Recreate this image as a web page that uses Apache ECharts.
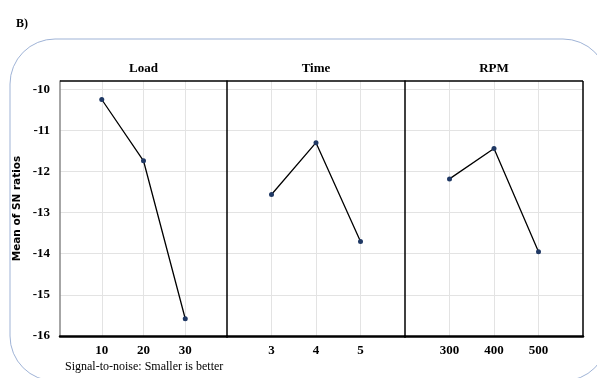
<!DOCTYPE html>
<html><head><meta charset="utf-8">
<script src="https://cdn.jsdelivr.net/npm/echarts@6/dist/echarts.min.js"></script>
<style>html,body{margin:0;padding:0;background:#fff}#c{width:597px;height:378px}</style>
</head><body><div id="c"></div>
<script>
const panelTitles = ['Load', 'Time', 'RPM'];
const loadLevels = [10, 20, 30];
const loadSN = [-10.25, -11.74, -15.58];
const timeLevels = [3, 4, 5];
const timeSN = [-12.56, -11.30, -13.70];
const rpmLevels = [300, 400, 500];
const rpmSN = [-12.18, -11.44, -13.95];
const yTicks = [-16, -15, -14, -13, -12, -11, -10];

const levels = [loadLevels, timeLevels, rpmLevels];
const values = [loadSN, timeSN, rpmSN];
const xRanges = [[0, 40, 10], [2, 6, 1], [200, 600, 100]];
const grids = [{left: 60, width: 167}, {left: 227, width: 178}, {left: 405, width: 178}];
const serif = '"Liberation Serif", "DejaVu Serif", serif';

const chart = echarts.init(document.getElementById('c'), null, {renderer: 'canvas'});
const option = {
  animation: false,
  grid: grids.map(g => ({left: g.left, width: g.width, top: 81, height: 255, show: false})),
  xAxis: grids.map((g, i) => ({
    type: 'value', gridIndex: i, min: xRanges[i][0], max: xRanges[i][1], interval: xRanges[i][2],
    axisLine: {show: true, onZero: false, lineStyle: {color: '#000', width: 2.5}},
    axisTick: {show: false},
    splitLine: {show: true, showMinLine: false, showMaxLine: false, lineStyle: {color: '#e3e3e3', width: 1}},
    axisLabel: {
      fontFamily: serif, fontWeight: 'bold', fontSize: 13, color: '#000', margin: 8,
      showMinLabel: false, showMaxLabel: false,
      formatter: v => levels[i].indexOf(v) >= 0 ? String(v) : ''
    }
  })),
  yAxis: grids.map((g, i) => ({
    type: 'value', gridIndex: i, min: yTicks[0], max: -9.8, interval: 1,
    axisLine: {show: true, lineStyle: {color: i === 0 ? '#888' : '#000', width: 1.5}},
    axisTick: {show: false},
    splitLine: {show: true, showMinLine: false, showMaxLine: false, lineStyle: {color: '#e3e3e3', width: 1}},
    axisLabel: {
      show: i === 0, fontFamily: serif, fontWeight: 'bold', fontSize: 13, color: '#000', margin: 10,
      formatter: v => yTicks.indexOf(v) >= 0 ? String(v) : ''
    },
    name: i === 0 ? 'Mean of SN ratios' : '',
    nameLocation: 'middle', nameGap: 37, nameRotate: 90,
    nameTextStyle: {fontFamily: '"DejaVu Sans", sans-serif', fontWeight: 'bold', fontSize: 10.5, color: '#000'}
  })),
  series: values.map((vals, i) => ({
    type: 'line', xAxisIndex: i, yAxisIndex: i,
    data: vals.map((v, k) => [levels[i][k], v]),
    symbol: 'circle', symbolSize: 5,
    itemStyle: {color: '#1f3864'},
    lineStyle: {color: '#000', width: 1.3},
    markLine: {
      silent: true, symbol: 'none', label: {show: false}, animation: false,
      lineStyle: {color: '#000', width: 1.5, type: 'solid'},
      data: i === 2 ? [{yAxis: -9.8}, {xAxis: xRanges[i][1]}] : [{yAxis: -9.8}]
    }
  })),
  graphic: [
    {type: 'rect', shape: {x: 10, y: 39, width: 598, height: 342, r: 45}, style: {fill: 'none', stroke: '#9fb3d6', lineWidth: 1}, silent: true, z: -1},
    {type: 'text', left: 16, top: 18, style: {text: 'B)', font: 'bold 12px ' + serif, fill: '#000'}},
    ...panelTitles.map((t, i) => ({type: 'text', x: grids[i].left + grids[i].width / 2, y: 69,
      style: {text: t, font: 'bold 13px ' + serif, fill: '#000', textAlign: 'center', textVerticalAlign: 'middle'}})),
    {type: 'text', x: 65, y: 367, style: {text: 'Signal-to-noise: Smaller is better', font: '12px ' + serif, fill: '#000', textVerticalAlign: 'middle'}}
  ]
};
chart.setOption(option);
</script>
</body></html>
